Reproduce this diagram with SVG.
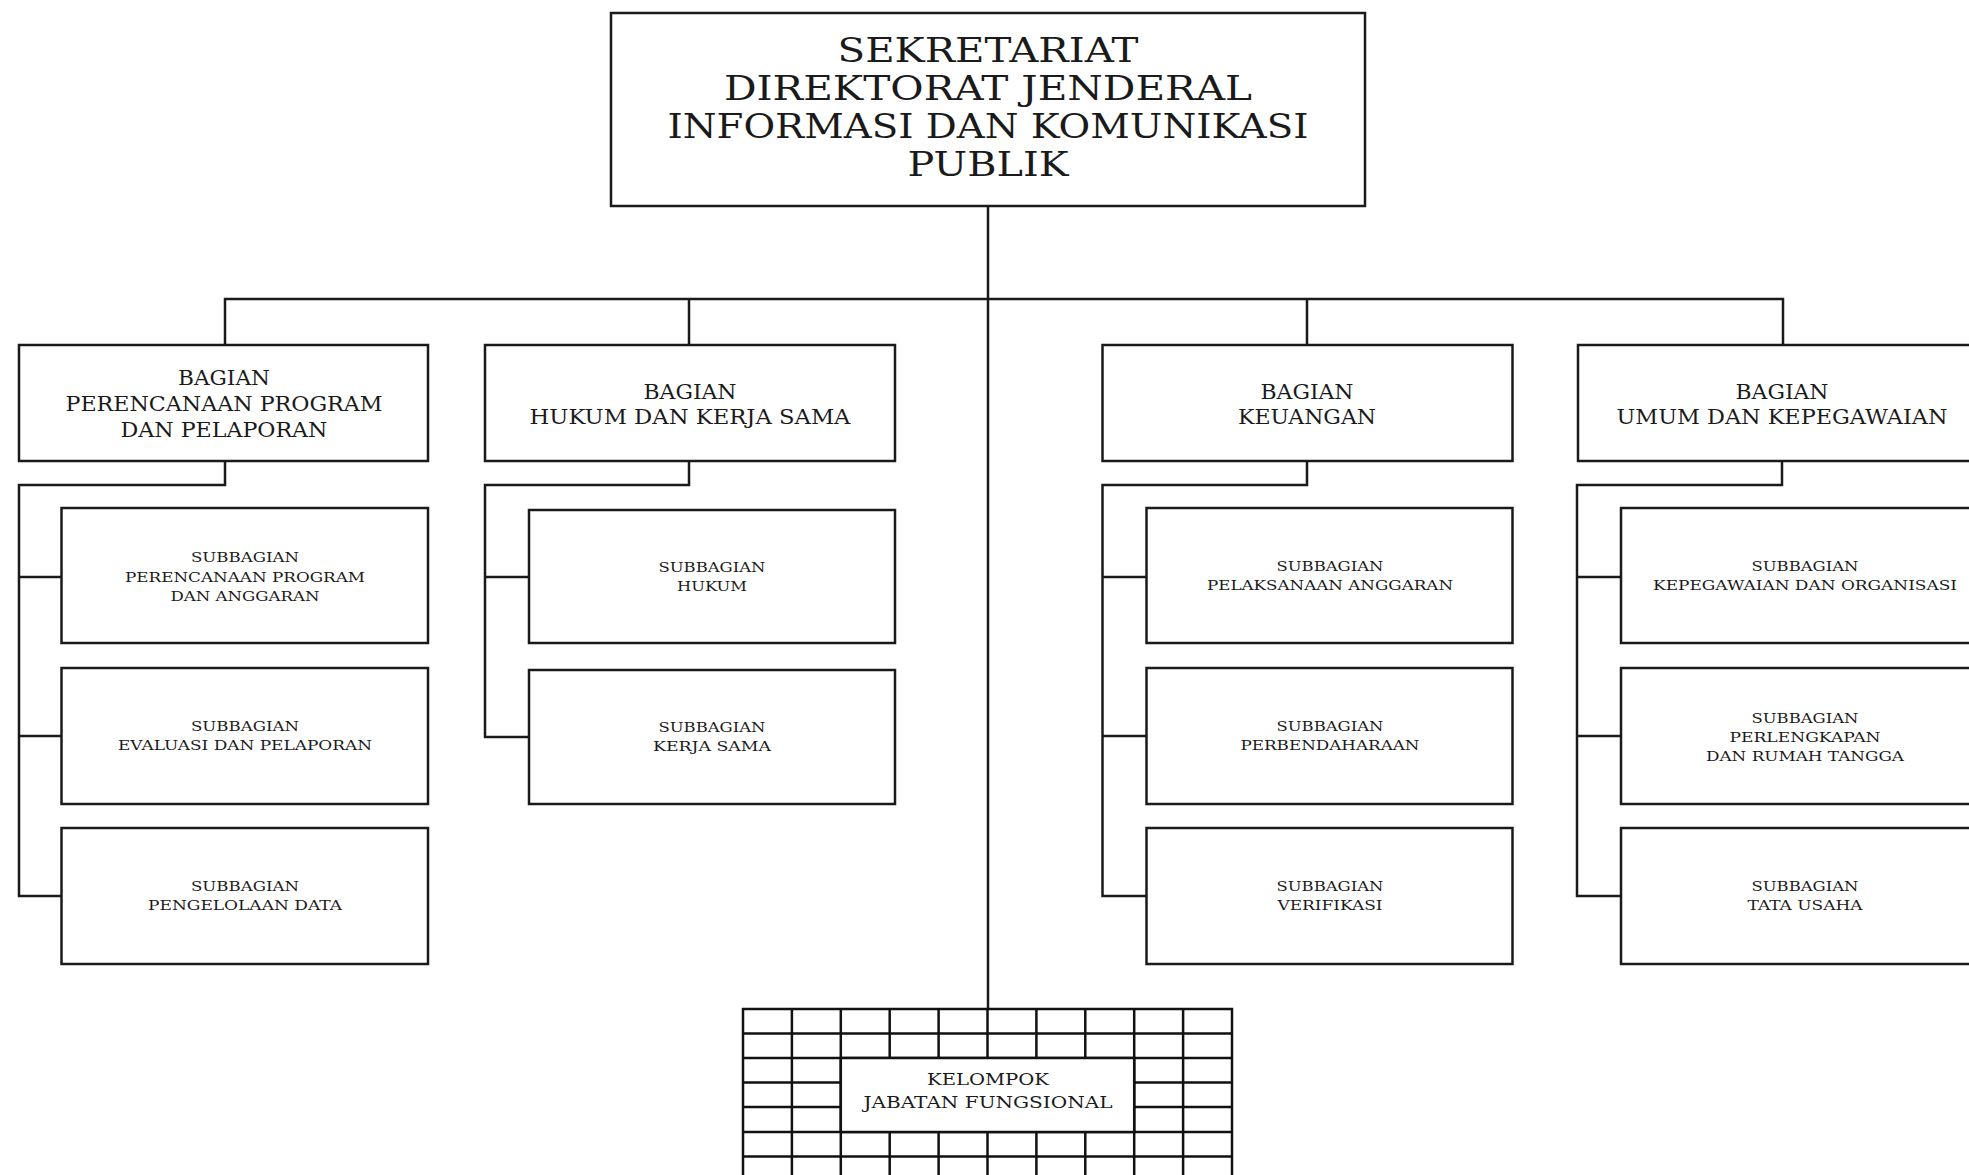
<svg xmlns="http://www.w3.org/2000/svg" width="1969" height="1175" viewBox="0 0 1969 1175">
<style>
.box{fill:#fff;stroke:#1a1a1a;stroke-width:2.5}
.ln{fill:none;stroke:#1a1a1a;stroke-width:2.5}
.grid{fill:none;stroke:#111;stroke-width:2.5}
text{font-family:"DejaVu Serif","Liberation Serif",serif;fill:#1a1a1a;text-anchor:middle}
.t0{font-size:33px}
.t1{font-size:20px}
.t2{font-size:12px}
.t3{font-size:16px}
</style>
<rect width="1969" height="1175" fill="#fff"/>
<g id="connectors">
<path class="ln" d="M988,206 V1009"/>
<path class="ln" d="M225,345 V299 H1783 V345 M689,299 V345 M1307,299 V345"/>
<path class="ln" d="M225,461 V485 H19 V896 H61.5 M19,577 H61.5 M19,736 H61.5"/>
<path class="ln" d="M689,461 V485 H485 V737 H529 M485,577 H529"/>
<path class="ln" d="M1307,461 V485 H1102.5 V896 H1146.5 M1102.5,577 H1146.5 M1102.5,736 H1146.5"/>
<path class="ln" d="M1782,461 V485 H1577 V896 H1621 M1577,577 H1621 M1577,736 H1621"/>
</g>
<g id="sekretariat">
<rect class="box" x="611" y="13" width="754" height="193"/>
<text class="t0" x="988" y="62" textLength="301" lengthAdjust="spacingAndGlyphs">SEKRETARIAT</text>
<text class="t0" x="988" y="100" textLength="528" lengthAdjust="spacingAndGlyphs">DIREKTORAT JENDERAL</text>
<text class="t0" x="988" y="138" textLength="641" lengthAdjust="spacingAndGlyphs">INFORMASI DAN KOMUNIKASI</text>
<text class="t0" x="988" y="176" textLength="161" lengthAdjust="spacingAndGlyphs">PUBLIK</text>
</g>
<g id="bagian-perencanaan">
<rect class="box" x="19" y="345" width="409" height="116"/>
<text class="t1" x="224" y="385" textLength="92" lengthAdjust="spacingAndGlyphs">BAGIAN</text>
<text class="t1" x="224" y="411" textLength="317" lengthAdjust="spacingAndGlyphs">PERENCANAAN PROGRAM</text>
<text class="t1" x="224" y="437" textLength="207" lengthAdjust="spacingAndGlyphs">DAN PELAPORAN</text>
</g>
<g id="bagian-hukum">
<rect class="box" x="485" y="345" width="410" height="116"/>
<text class="t1" x="690" y="399" textLength="93" lengthAdjust="spacingAndGlyphs">BAGIAN</text>
<text class="t1" x="690" y="424" textLength="321" lengthAdjust="spacingAndGlyphs">HUKUM DAN KERJA SAMA</text>
</g>
<g id="bagian-keuangan">
<rect class="box" x="1102.5" y="345" width="410" height="116"/>
<text class="t1" x="1307" y="399" textLength="93" lengthAdjust="spacingAndGlyphs">BAGIAN</text>
<text class="t1" x="1307" y="424" textLength="138" lengthAdjust="spacingAndGlyphs">KEUANGAN</text>
</g>
<g id="bagian-umum">
<rect class="box" x="1578" y="345" width="412" height="116"/>
<text class="t1" x="1782" y="399" textLength="93" lengthAdjust="spacingAndGlyphs">BAGIAN</text>
<text class="t1" x="1782" y="424" textLength="331" lengthAdjust="spacingAndGlyphs">UMUM DAN KEPEGAWAIAN</text>
</g>
<g id="sub-perencanaan-anggaran">
<rect class="box" x="61.5" y="508" width="366.5" height="135"/>
<text class="t2" x="245" y="562" textLength="108" lengthAdjust="spacingAndGlyphs">SUBBAGIAN</text>
<text class="t2" x="245" y="582" textLength="240" lengthAdjust="spacingAndGlyphs">PERENCANAAN PROGRAM</text>
<text class="t2" x="245" y="601" textLength="149" lengthAdjust="spacingAndGlyphs">DAN ANGGARAN</text>
</g>
<g id="sub-evaluasi">
<rect class="box" x="61.5" y="668" width="366.5" height="136"/>
<text class="t2" x="245" y="731" textLength="108" lengthAdjust="spacingAndGlyphs">SUBBAGIAN</text>
<text class="t2" x="245" y="750" textLength="254" lengthAdjust="spacingAndGlyphs">EVALUASI DAN PELAPORAN</text>
</g>
<g id="sub-pengelolaan-data">
<rect class="box" x="61.5" y="828" width="366.5" height="136"/>
<text class="t2" x="245" y="891" textLength="108" lengthAdjust="spacingAndGlyphs">SUBBAGIAN</text>
<text class="t2" x="245" y="910" textLength="194" lengthAdjust="spacingAndGlyphs">PENGELOLAAN DATA</text>
</g>
<g id="sub-hukum">
<rect class="box" x="529" y="510" width="366" height="133"/>
<text class="t2" x="712" y="572" textLength="107" lengthAdjust="spacingAndGlyphs">SUBBAGIAN</text>
<text class="t2" x="712" y="591" textLength="70" lengthAdjust="spacingAndGlyphs">HUKUM</text>
</g>
<g id="sub-kerja-sama">
<rect class="box" x="529" y="670" width="366" height="134"/>
<text class="t2" x="712" y="732" textLength="107" lengthAdjust="spacingAndGlyphs">SUBBAGIAN</text>
<text class="t2" x="712" y="751" textLength="118" lengthAdjust="spacingAndGlyphs">KERJA SAMA</text>
</g>
<g id="sub-pelaksanaan-anggaran">
<rect class="box" x="1146.5" y="508" width="366" height="135"/>
<text class="t2" x="1330" y="571" textLength="107" lengthAdjust="spacingAndGlyphs">SUBBAGIAN</text>
<text class="t2" x="1330" y="590" textLength="246" lengthAdjust="spacingAndGlyphs">PELAKSANAAN ANGGARAN</text>
</g>
<g id="sub-perbendaharaan">
<rect class="box" x="1146.5" y="668" width="366" height="136"/>
<text class="t2" x="1330" y="731" textLength="107" lengthAdjust="spacingAndGlyphs">SUBBAGIAN</text>
<text class="t2" x="1330" y="750" textLength="179" lengthAdjust="spacingAndGlyphs">PERBENDAHARAAN</text>
</g>
<g id="sub-verifikasi">
<rect class="box" x="1146.5" y="828" width="366" height="136"/>
<text class="t2" x="1330" y="891" textLength="107" lengthAdjust="spacingAndGlyphs">SUBBAGIAN</text>
<text class="t2" x="1330" y="910" textLength="105" lengthAdjust="spacingAndGlyphs">VERIFIKASI</text>
</g>
<g id="sub-kepegawaian">
<rect class="box" x="1621" y="508" width="369" height="135"/>
<text class="t2" x="1805" y="571" textLength="107" lengthAdjust="spacingAndGlyphs">SUBBAGIAN</text>
<text class="t2" x="1805" y="590" textLength="304" lengthAdjust="spacingAndGlyphs">KEPEGAWAIAN DAN ORGANISASI</text>
</g>
<g id="sub-perlengkapan">
<rect class="box" x="1621" y="668" width="369" height="136"/>
<text class="t2" x="1805" y="723" textLength="107" lengthAdjust="spacingAndGlyphs">SUBBAGIAN</text>
<text class="t2" x="1805" y="742" textLength="151" lengthAdjust="spacingAndGlyphs">PERLENGKAPAN</text>
<text class="t2" x="1805" y="761" textLength="198" lengthAdjust="spacingAndGlyphs">DAN RUMAH TANGGA</text>
</g>
<g id="sub-tata-usaha">
<rect class="box" x="1621" y="828" width="369" height="136"/>
<text class="t2" x="1805" y="891" textLength="107" lengthAdjust="spacingAndGlyphs">SUBBAGIAN</text>
<text class="t2" x="1805" y="910" textLength="115" lengthAdjust="spacingAndGlyphs">TATA USAHA</text>
</g>
<g id="kelompok-jabatan-fungsional">
<rect class="grid" x="743" y="1009" width="489" height="190"/>
<path class="grid" d="M791.9,1009 V1199 M840.8,1009 V1199 M889.7,1009 V1199 M938.6,1009 V1199 M987.5,1009 V1199 M1036.4,1009 V1199 M1085.3,1009 V1199 M1134.2,1009 V1199 M1183.1,1009 V1199 M743,1033.5 H1232 M743,1058 H1232 M743,1082.5 H1232 M743,1107 H1232 M743,1132 H1232 M743,1156.5 H1232 M743,1181 H1232"/>
<rect class="grid" x="840.8" y="1058" width="293.4" height="74" fill="#fff" style="fill:#fff"/>
<text class="t3" x="988" y="1085" textLength="122" lengthAdjust="spacingAndGlyphs">KELOMPOK</text>
<text class="t3" x="988" y="1108" textLength="249" lengthAdjust="spacingAndGlyphs">JABATAN FUNGSIONAL</text>
</g>
</svg>
